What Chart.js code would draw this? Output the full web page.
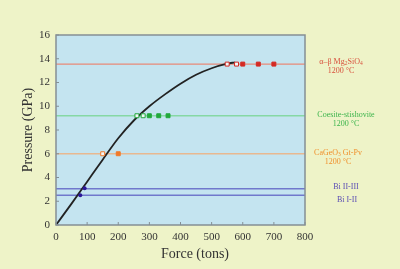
<!DOCTYPE html>
<html>
<head>
<meta charset="utf-8">
<script src="https://cdn.jsdelivr.net/npm/chart.js@4"></script>
<style>
    html, body { margin: 0; padding: 0; background: #eef3c8; }
    #wrap { position: relative; width: 400px; height: 269px; overflow: hidden; }
    .note {
        position: absolute;
        width: 90px;
        font-family: 'Liberation Serif', 'DejaVu Serif', serif;
        font-size: 8px;
        line-height: 8.5px;
        text-align: center;
        white-space: nowrap;
    }
    .note sub { font-size: 5.5px; vertical-align: -1px; line-height: 0; }
    #xTitle {
        position: absolute;
        left: 145px;
        top: 246px;
        width: 100px;
        text-align: center;
        font-family: 'Liberation Serif', serif;
        font-size: 14px;
        line-height: 16px;
        color: #333;
    }
</style>
</head>
<body>
<div id="wrap">
    <canvas id="chart" width="400" height="269"></canvas>
    <div class="note" style="left:296px; top:58px; color:#d8503c;">α–β Mg<sub>2</sub>SiO<sub>4</sub><br>1200 °C</div>
    <div class="note" style="left:301px; top:111px; color:#3cb44c;">Coesite-stishovite<br>1200 °C</div>
    <div class="note" style="left:293px; top:149px; color:#f0902c;">CaGeO<sub>3</sub> Gt-Pv<br>1200 °C</div>
    <div class="note" style="left:301px; top:183px; color:#5a4cb4;">Bi II-III</div>
    <div class="note" style="left:302px; top:196px; color:#5a4cb4;">Bi I-II</div>
    <div id="xTitle">Force (tons)</div>
</div>
<script>
// calibration curve
const curveForce    = [0, 50, 100, 150, 200, 250, 300, 350, 400, 450, 500, 550, 575];
const curvePressure = [0, 1.8, 3.65, 5.5, 7.3, 8.8, 10.0, 11.0, 11.9, 12.65, 13.2, 13.58, 13.7];

// fixed-point transition pressures (GPa)
const levelPressure = [13.55, 9.2, 6.0, 3.05, 2.5];
const levelColor    = ['#e88a78', '#86d8a4', '#e8b890', '#7078cc', '#7078cc'];

// experimental runs
const redOpenForce      = [550, 580];
const redFilledForce    = [600, 650, 700];
const greenOpenForce    = [260, 280];
const greenFilledForce  = [300, 330, 360];
const orangeOpenForce   = [150];
const orangeFilledForce = [200];
const biForce    = [92, 78];
const biPressure = [3.1, 2.5];

const xMin = 0, xMax = 800, xStep = 100;
const yMin = 0, yMax = 16, yStep = 2;

const serif = "'Liberation Serif', 'DejaVu Serif', serif";

function onLevel(forces, level) {
    return forces.map(f => ({ x: f, y: level }));
}

function pointSet(data, color, open) {
    return {
        data: data,
        showLine: false,
        pointStyle: 'rect',
        pointRadius: 2.8,
        pointBorderWidth: 1,
        pointBorderColor: color,
        pointBackgroundColor: open ? '#f2f7f8' : color
    };
}

const datasets = [
    pointSet(onLevel(redOpenForce, levelPressure[0]), '#d42a24', true),
    pointSet(onLevel(redFilledForce, levelPressure[0]), '#d42a24', false),
    pointSet(onLevel(greenOpenForce, levelPressure[1]), '#22a83c', true),
    pointSet(onLevel(greenFilledForce, levelPressure[1]), '#22a83c', false),
    pointSet(onLevel(orangeOpenForce, levelPressure[2]), '#f07a2a', true),
    pointSet(onLevel(orangeFilledForce, levelPressure[2]), '#f07a2a', false),
    {
        data: biForce.map((f, i) => ({ x: f, y: biPressure[i] })),
        showLine: false,
        pointStyle: 'circle',
        pointRadius: 2,
        pointBorderWidth: 0,
        pointBackgroundColor: '#2c1898'
    },
    {
        data: curveForce.map((f, i) => ({ x: f, y: curvePressure[i] })),
        showLine: true,
        borderColor: '#222',
        borderWidth: 1.8,
        pointRadius: 0,
        cubicInterpolationMode: 'monotone'
    }
];

levelPressure.forEach((p, i) => {
    datasets.push({
        data: [{ x: xMin, y: p }, { x: xMax, y: p }],
        showLine: true,
        borderColor: levelColor[i],
        borderWidth: i === 0 ? 1.2 : 1.5,
        pointRadius: 0
    });
});

// light blue plot area, grey frame and short inner ticks
const plotFrame = {
    id: 'plotFrame',
    beforeDraw(chart) {
        const { ctx, chartArea: a } = chart;
        ctx.save();
        ctx.fillStyle = '#c4e4f0';
        ctx.fillRect(a.left, a.top, a.right - a.left, a.bottom - a.top);
        ctx.restore();
    },
    afterDraw(chart) {
        const { ctx, chartArea: a, scales } = chart;
        ctx.save();
        ctx.strokeStyle = '#858f94';
        ctx.lineWidth = 1.5;
        ctx.strokeRect(a.left, a.top, a.right - a.left, a.bottom - a.top);
        ctx.lineWidth = 1;
        ctx.beginPath();
        scales.x.ticks.forEach(t => {
            const px = scales.x.getPixelForValue(t.value);
            ctx.moveTo(px, a.bottom);
            ctx.lineTo(px, a.bottom - 3);
        });
        scales.y.ticks.forEach(t => {
            const py = scales.y.getPixelForValue(t.value);
            ctx.moveTo(a.left, py);
            ctx.lineTo(a.left + 3, py);
        });
        ctx.stroke();
        ctx.restore();
    }
};

new Chart(document.getElementById('chart'), {
    type: 'scatter',
    data: { datasets: datasets },
    plugins: [plotFrame],
    options: {
        responsive: false,
        animation: false,
        layout: { padding: { left: 0, right: 95, top: 35, bottom: 0 } },
        plugins: {
            legend: { display: false },
            tooltip: { enabled: false }
        },
        scales: {
            x: {
                type: 'linear',
                min: xMin,
                max: xMax,
                afterFit(scale) { scale.height = 44; },
                grid: { display: false, drawTicks: false },
                border: { display: false },
                ticks: {
                    stepSize: xStep,
                    padding: 6,
                    color: '#333',
                    font: { family: serif, size: 11 }
                }
            },
            y: {
                type: 'linear',
                min: yMin,
                max: yMax,
                afterFit(scale) { scale.width = 56; },
                grid: { display: false, drawTicks: false },
                border: { display: false },
                ticks: {
                    stepSize: yStep,
                    padding: 6,
                    color: '#333',
                    font: { family: serif, size: 11 }
                },
                title: {
                    display: true,
                    text: 'Pressure (GPa)',
                    color: '#333',
                    font: { family: serif, size: 14 },
                    padding: { top: 19.5, bottom: 0 }
                }
            }
        }
    }
});
</script>
</body>
</html>
